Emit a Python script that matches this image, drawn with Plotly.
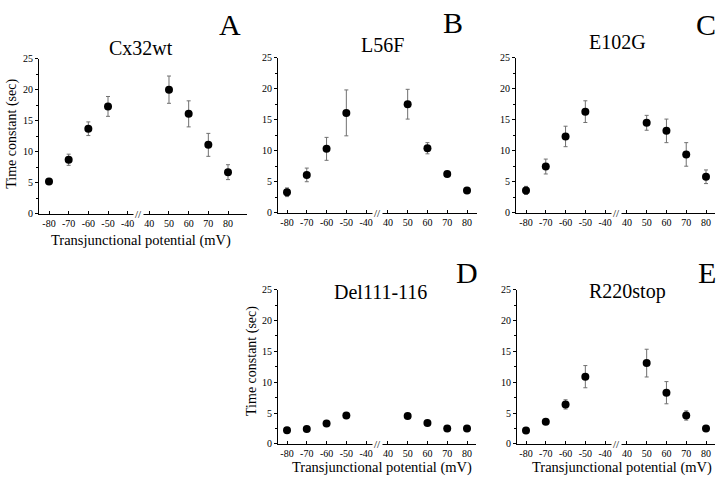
import plotly.graph_objects as go

potentials = [-80, -70, -60, -50, 50, 60, 70, 80]
tick_vals_mv = [-80, -70, -60, -50, -40, 40, 50, 60, 70, 80]
tick_text = ["-80", "-70", "-60", "-50", "-40", "40", "50", "60", "70", "80"]
y_tick_vals = [0, 5, 10, 15, 20, 25]

names = ["Cx32wt", "L56F", "E102G", "Del111-116", "R220stop"]
letters = ["A", "B", "C", "D", "E"]

cx32wt = [5.2, 8.7, 13.7, 17.3, 20.0, 16.1, 11.1, 6.7]
cx32wt_err = [0.3, 0.9, 1.1, 1.6, 2.2, 2.1, 1.85, 1.2]
l56f = [3.3, 6.1, 10.3, 16.1, 17.5, 10.4, 6.25, 3.6]
l56f_err = [0.7, 1.1, 1.85, 3.7, 2.4, 0.9, 0.2, 0.2]
e102g = [3.6, 7.45, 12.3, 16.3, 14.5, 13.2, 9.4, 5.8]
e102g_err = [0.65, 1.2, 1.65, 1.75, 1.2, 1.9, 1.9, 1.1]
del111 = [2.2, 2.4, 3.3, 4.6, 4.5, 3.4, 2.5, 2.5]
del111_err = [0.2, 0.2, 0.2, 0.2, 0.2, 0.2, 0.2, 0.2]
r220stop = [2.15, 3.6, 6.4, 10.9, 13.1, 8.3, 4.6, 2.5]
r220stop_err = [0.2, 0.2, 0.75, 1.8, 2.25, 1.8, 0.75, 0.2]

series = [(cx32wt, cx32wt_err), (l56f, l56f_err), (e102g, e102g_err),
          (del111, del111_err), (r220stop, r220stop_err)]

W, H = 720, 483
GAP_SHIFT = 69  # positive potentials are drawn shifted left across the axis break


def pos(v):
    return v if v < 0 else v - GAP_SHIFT


# panel pixel geometry: (axis left, axis right, px of -80, px of 80, y top(25), y bottom(0))
panels = [
    (39, 247, 49, 228, 54, 213),
    (278, 477, 287, 467, 53, 212),
    (516, 715, 526, 706, 53, 212),
    (278, 476, 287, 467, 291, 449),
    (517, 715, 526, 706, 291, 449),
]
title_pos = [(141, 43), (382, 40), (617, 37), (380, 293), (627, 293)]
letter_pos = [(230, 19), (453, 17), (706, 19), (467, 273), (707, 273)]

FONT = "Liberation Serif, Times New Roman, serif"

fig = go.Figure()
layout = dict(
    width=W, height=H, margin=dict(l=0, r=0, t=0, b=0),
    paper_bgcolor="white", plot_bgcolor="white", showlegend=False,
    font=dict(family=FONT, color="black"), hovermode=False,
)
annotations = []

for i, ((vals, errs), (xl, xr, p80n, p80p, yt, yb)) in enumerate(zip(series, panels)):
    n = "" if i == 0 else str(i + 1)
    a0, a1 = pos(-80), pos(80)
    scale = (p80p - p80n) / (a1 - a0)
    rmin = a0 - (p80n - xl) / scale
    rmax = a1 + (xr - p80p) / scale
    layout["xaxis" + n] = dict(
        domain=[xl / W, xr / W], range=[rmin, rmax], anchor="y" + n,
        tickmode="array", tickvals=[pos(v) for v in tick_vals_mv], ticktext=tick_text,
        showline=True, linecolor="black", linewidth=1, ticks="inside", ticklen=3,
        tickcolor="black", showgrid=False, zeroline=False,
        tickfont=dict(size=10, family=FONT),
    )
    layout["yaxis" + n] = dict(
        domain=[1 - yb / H, 1 - yt / H], range=[0, 25], anchor="x" + n,
        tickmode="array", tickvals=y_tick_vals,
        showline=True, linecolor="black", linewidth=1, ticks="outside", ticklen=3,
        tickcolor="black", showgrid=False, zeroline=False,
        tickfont=dict(size=10, family=FONT),
        minor=dict(dtick=2.5, ticks="outside", ticklen=2, tickcolor="black"),
    )
    fig.add_trace(go.Scatter(
        x=[pos(v) for v in potentials], y=vals, mode="markers",
        marker=dict(color="black", size=8),
        error_y=dict(type="data", array=errs, color="#707070", thickness=1, width=2),
        xaxis="x" + n, yaxis="y" + n, cliponaxis=False,
    ))
    # axis break mark
    annotations.append(dict(
        x=(pos(-40) + pos(40)) / 2, y=0, xref="x" + n, yref="y" + n,
        text="//", showarrow=False, font=dict(size=11, family=FONT),
        xanchor="center", yanchor="middle", bgcolor="white",
    ))
    tx, ty = title_pos[i]
    annotations.append(dict(
        x=tx / W, y=1 - ty / H, xref="paper", yref="paper", text=names[i],
        showarrow=False, font=dict(size=20, family=FONT),
        xanchor="center", yanchor="middle",
    ))
    lx, ly = letter_pos[i]
    annotations.append(dict(
        x=lx / W, y=1 - ly / H, xref="paper", yref="paper", text=letters[i],
        showarrow=False, font=dict(size=30, family=FONT),
        xanchor="center", yanchor="middle",
    ))

# axis titles
for (x, y) in [(12, 131), (252, 364)]:
    annotations.append(dict(
        x=x / W, y=1 - y / H, xref="paper", yref="paper", text="Time constant (sec)",
        textangle=-90, showarrow=False, font=dict(size=14, family=FONT),
        xanchor="center", yanchor="middle",
    ))
for (x, y) in [(141, 240), (382, 473), (622, 473)]:
    annotations.append(dict(
        x=x / W, y=1 - y / H, xref="paper", yref="paper",
        text="Transjunctional potential (mV)",
        showarrow=False, font=dict(size=14.5, family=FONT),
        xanchor="center", yanchor="middle",
    ))

layout["annotations"] = annotations
fig.update_layout(**layout)
fig.write_html(
    "out.html",
    config={"displayModeBar": False, "staticPlot": True},
    post_script="document.body.style.margin='0';document.body.style.overflow='hidden';",
)
